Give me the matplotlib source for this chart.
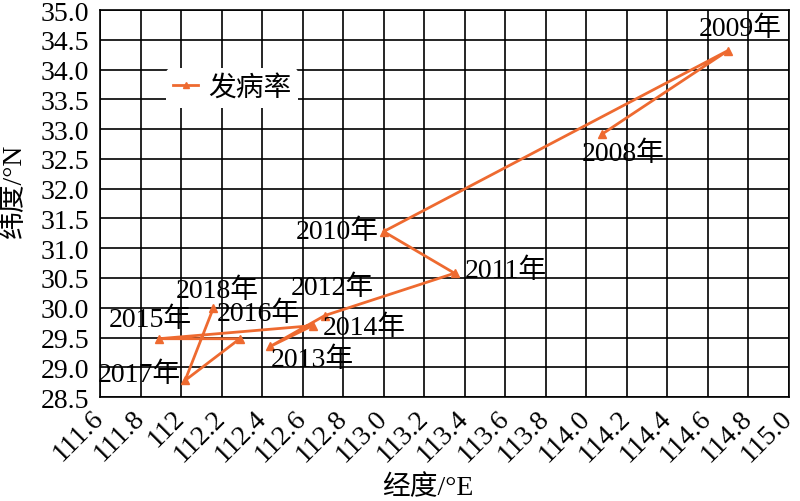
import matplotlib.pyplot as plt
from matplotlib.ticker import MultipleLocator
from matplotlib.transforms import ScaledTranslation

# data
years = ['2008年', '2009年', '2010年', '2011年', '2012年', '2013年',
         '2014年', '2015年', '2016年', '2017年', '2018年']
lon = [114.08, 114.70, 113.00, 113.35, 112.71, 112.44,
       112.65, 111.89, 112.29, 112.02, 112.16]
lat = [32.92, 34.32, 31.28, 30.58, 29.87, 29.35,
       29.70, 29.48, 29.48, 28.78, 30.00]
xticks = [111.6 + 0.2 * i for i in range(18)]
xtick_labels = [f'{v:.1f}' for v in xticks]
xtick_labels[2] = '112'

# label offsets in pixels (dx, dy)
offsets = [(21, -19), (12, 22), (-46, 0), (51, 3), (7, 28), (42, -13),
           (52, -2), (-8, 19), (19, 25), (-46, 6), (4, 18)]

FONT = ['Liberation Serif', 'Noto Sans CJK SC']
plt.rcParams['font.family'] = FONT
COLOR = '#EE6A30'
FS = 20

fig = plt.figure(figsize=(8, 5.02), dpi=100)
ax = fig.add_axes([0.125, 0.207, 0.861, 0.771])

ax.plot(lon, lat, color=COLOR, lw=2, marker='^', ms=6, label='发病率', zorder=3)

for name, x, y, (dx, dy) in zip(years, lon, lat, offsets):
    ax.annotate(name, (x, y), xytext=(dx, dy), textcoords='offset pixels',
                ha='center', va='center', fontsize=FS, zorder=4)

ax.set_xlim(111.6, 115.0)
ax.set_ylim(28.5, 35.0)
ax.set_xticks(xticks)
ax.set_xticklabels(xtick_labels, rotation=45, ha='right', va='center',
                   rotation_mode='anchor', fontsize=FS)
shift = ScaledTranslation(0.05, 0, fig.dpi_scale_trans)
for t in ax.get_xticklabels():
    t.set_transform(t.get_transform() + shift)
ax.yaxis.set_major_locator(MultipleLocator(0.5))
ax.yaxis.set_major_formatter(plt.FormatStrFormatter('%.1f'))
for t in ax.get_yticklabels():
    t.set_fontsize(FS)
ax.tick_params(length=0, pad=8)
ax.tick_params(axis='x', pad=12)
ax.grid(True, color='black', lw=1.2)
ax.set_axisbelow(True)
for s in ax.spines.values():
    s.set_color('black')
    s.set_linewidth(1.2)

leg = ax.legend(loc='upper left', bbox_to_anchor=(0.096, 0.85), frameon=True,
                fontsize=FS, handlelength=0.9, handletextpad=0.36, borderpad=0.25,
                borderaxespad=0, markerscale=0.7)
leg.get_frame().set_edgecolor('none')
leg.get_frame().set_alpha(1)

fig.text(0.535, 0.028, '经度/°E', ha='center', va='center', fontsize=FS)
fig.text(0.017, 0.62, '纬度/°N', ha='center', va='center', rotation=90, fontsize=FS)

fig.savefig('out.png', dpi=100)
